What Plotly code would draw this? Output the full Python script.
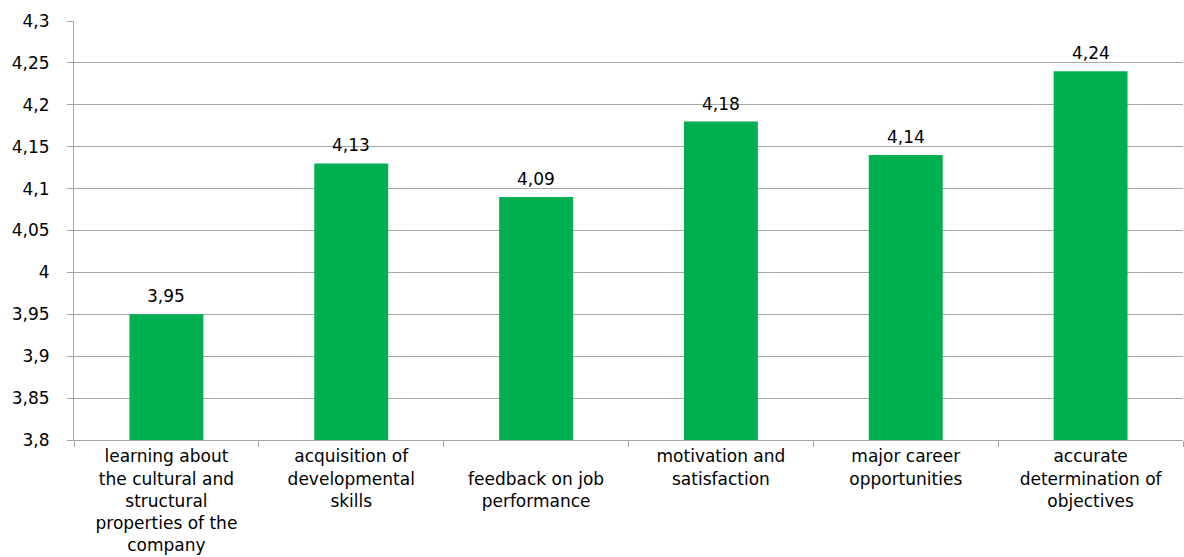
import plotly.graph_objects as go

categories = [
    "learning about<br>the cultural and<br>structural<br>properties of the<br>company",
    "acquisition of<br>developmental<br>skills",
    "<br>feedback on job<br>performance",
    "motivation and<br>satisfaction",
    "major career<br>opportunities",
    "accurate<br>determination of<br>objectives",
]
values = [3.95, 4.13, 4.09, 4.18, 4.14, 4.24]
y_ticks = [3.8, 3.85, 3.9, 3.95, 4.0, 4.05, 4.1, 4.15, 4.2, 4.25, 4.3]

def comma(v):
    s = f"{v:.2f}".rstrip("0").rstrip(".")
    return s.replace(".", ",")

labels = [f"{v:.2f}".replace(".", ",") for v in values]

font_family = "DejaVu Sans, Verdana, sans-serif"
font_size = 17
grid = "#A6A6A6"

fig = go.Figure(
    go.Bar(
        x=categories,
        y=values,
        marker=dict(color="#00B050", line=dict(width=0)),
        width=0.4,
        cliponaxis=False,
    )
)

# value labels above each bar
for cat, v, lab in zip(categories, values, labels):
    fig.add_annotation(
        x=cat,
        y=v,
        text=lab,
        showarrow=False,
        yanchor="bottom",
        yshift=6,
        font=dict(family=font_family, size=font_size, color="#000000"),
    )

fig.update_layout(
    width=1184,
    height=557,
    margin=dict(l=74, r=1, t=21, b=117),
    paper_bgcolor="white",
    plot_bgcolor="white",
    showlegend=False,
    font=dict(family=font_family, size=font_size, color="#000000"),
    bargap=0.6,
)

fig.update_yaxes(
    range=[3.8, 4.3],
    tickvals=y_ticks,
    ticktext=[comma(v) for v in y_ticks],
    showgrid=True,
    gridcolor=grid,
    gridwidth=1,
    showline=True,
    linecolor=grid,
    ticks="outside",
    ticklen=6,
    tickcolor=grid,
    ticklabelstandoff=14,
    tickfont=dict(family=font_family, size=font_size, color="#000000"),
    zeroline=False,
    automargin=False,
)

fig.update_xaxes(
    showline=True,
    linecolor=grid,
    ticks="outside",
    tickson="boundaries",
    ticklen=6,
    tickcolor=grid,
    tickangle=0,
    ticklabelstandoff=1,
    tickfont=dict(family=font_family, size=font_size, color="#000000"),
    automargin=False,
)

fig.write_html("out.html")
